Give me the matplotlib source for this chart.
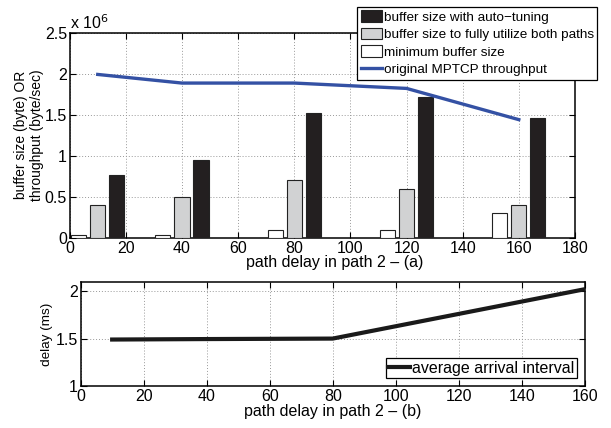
import numpy as np
import matplotlib
matplotlib.use('Agg')
import matplotlib.pyplot as plt

plt.rcParams['font.family'] = ['Liberation Sans', 'DejaVu Sans']

# path delay settings (ms)
delays = [10, 40, 80, 120, 160]

# buffer sizes (bytes, in units of 1e6)
buf_min = [0.04, 0.04, 0.10, 0.10, 0.30]
buf_full = [0.40, 0.50, 0.70, 0.60, 0.40]
buf_auto = [0.77, 0.95, 1.52, 1.71, 1.46]

# original MPTCP throughput (byte/sec, 1e6)
mptcp_thr = [1.99, 1.885, 1.885, 1.82, 1.44]

# average arrival interval (ms)
arrival = [1.49, 1.495, 1.50, 1.76, 2.02]

fig = plt.figure(figsize=(6.11, 4.28), dpi=100)
ax1 = fig.add_axes([0.114, 0.444, 0.827, 0.480])
ax2 = fig.add_axes([0.132, 0.098, 0.825, 0.244])

x = np.array(delays)
w = 5.4
off = 6.8
ec = '#222222'
h_auto = ax1.bar(x + off, buf_auto, w, color='#231f20', edgecolor=ec, linewidth=0.8, zorder=3,
                 label='buffer size with auto\u2212tuning')
h_full = ax1.bar(x, buf_full, w, color='#d1d2d3', edgecolor=ec, linewidth=0.8, zorder=3,
                 label='buffer size to fully utilize both paths')
h_min = ax1.bar(x - off, buf_min, w, color='white', edgecolor=ec, linewidth=0.8, zorder=3,
                label='minimum buffer size')
h_line, = ax1.plot(delays, mptcp_thr, color='#3451a4', linewidth=2.4, zorder=4,
                   label='original MPTCP throughput')

ax1.set_xlim(0, 180)
ax1.set_ylim(0, 2.5)
ax1.set_xticks(range(0, 181, 20))
ax1.set_yticks([0, 0.5, 1, 1.5, 2, 2.5])
ax1.set_yticklabels(['0', '0.5', '1', '1.5', '2', '2.5'])
ax1.set_xlabel('path delay in path 2 \u2013 (a)', fontsize=11.5, labelpad=0)
ax1.xaxis.set_label_coords(0.525, -0.085)
ax1.set_ylabel('buffer size (byte) OR\nthroughput (byte/sec)', fontsize=10, labelpad=0.5, linespacing=1.2)
ax1.text(0.0, 1.005, 'x 10$^{6}$', transform=ax1.transAxes, fontsize=11.5, ha='left', va='bottom')

leg = fig.legend(handles=[h_auto, h_full, h_min, h_line], loc='upper right',
                 bbox_to_anchor=(597 / 611, 1 - 7 / 428), fontsize=9.7, frameon=True,
                 fancybox=False, framealpha=1, edgecolor='black', borderpad=0.25,
                 handlelength=1.6, handleheight=0.95, handletextpad=0.1, labelspacing=0.3,
                 borderaxespad=0)
leg.get_frame().set_linewidth(0.9)

ax2.plot(delays, arrival, color='#1a1a1a', linewidth=3.0, label='average arrival interval', zorder=3)
ax2.set_xlim(0, 160)
ax2.set_ylim(1, 2.1)
ax2.set_xticks(range(0, 161, 20))
ax2.set_yticks([1, 1.5, 2])
ax2.set_yticklabels(['1', '1.5', '2'])
ax2.set_xlabel('path delay in path 2 \u2013 (b)', fontsize=11.5, labelpad=0)
ax2.set_ylabel('delay (ms)', fontsize=9.7, labelpad=2)
leg2 = ax2.legend(loc='lower right', fontsize=11.5, fancybox=False, framealpha=1, edgecolor='black',
                  borderpad=0.15, handlelength=1.4, handletextpad=0.1, borderaxespad=0.5)
leg2.get_frame().set_linewidth(0.9)

for ax in (ax1, ax2):
    ax.grid(True, linestyle=(0, (1, 2)), color='#999999', linewidth=0.7, zorder=0)
    ax.set_axisbelow(True)
    ax.tick_params(direction='in', top=True, right=True, labelsize=11.5, length=4, pad=2)
    for s in ax.spines.values():
        s.set_linewidth(1.1)

fig.savefig('out.png', dpi=100)
